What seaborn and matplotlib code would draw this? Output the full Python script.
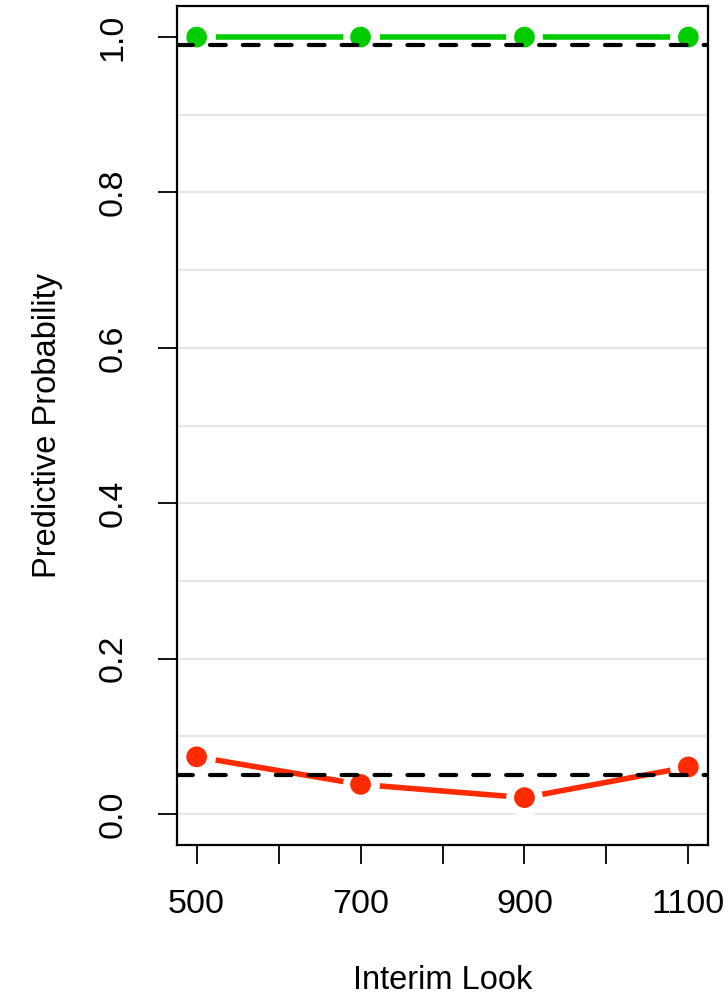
import matplotlib
matplotlib.use("Agg")
import matplotlib.pyplot as plt
import seaborn as sns
import pandas as pd
import numpy as np

looks = [500, 700, 900, 1100]
success = [1.0, 1.0, 1.0, 1.0]
futility = [0.0735, 0.038, 0.021, 0.0605]
success_threshold = 0.99
futility_threshold = 0.05
x_ticks = [500, 600, 700, 800, 900, 1000, 1100]
x_ticklabels = ["500", "", "700", "", "900", "", "1100"]
y_ticks = [0.0, 0.2, 0.4, 0.6, 0.8, 1.0]
y_ticklabels = ["0.0", "0.2", "0.4", "0.6", "0.8", "1.0"]
grid_levels = [0.0, 0.1, 0.2, 0.3, 0.4, 0.5, 0.6, 0.7, 0.8, 0.9, 1.0]

GREEN = "#00CC00"
RED = "#FF2A00"

sns.set_theme(style="white")
plt.rcParams["font.family"] = ["Liberation Sans", "DejaVu Sans"]

df = pd.DataFrame({
    "look": looks * 2,
    "prob": success + futility,
    "series": ["success"] * len(looks) + ["futility"] * len(looks),
})

fig = plt.figure(figsize=(7.28, 9.98), dpi=100)
ax = fig.add_axes([177 / 728, 1 - 845 / 998, 531 / 728, 839 / 998])

# grid lines
for g in grid_levels:
    ax.axhline(g, color="#E6E6E6", lw=1.6, zorder=0.5)

# connecting lines
sns.lineplot(data=df, x="look", y="prob", hue="series",
             palette={"success": GREEN, "futility": RED},
             lw=4.0, legend=False, ax=ax, zorder=2,
             solid_capstyle="round")

# white gap around points (R type="b")
ax.scatter(df["look"], df["prob"], s=26.5 ** 2, color="white", zorder=3, linewidths=0)
# points
sns.scatterplot(data=df, x="look", y="prob", hue="series",
                palette={"success": GREEN, "futility": RED},
                s=14.9 ** 2, linewidth=0, legend=False, ax=ax, zorder=4)

# thresholds
for thr in [success_threshold, futility_threshold]:
    ax.axhline(thr, color="black", lw=3.0, dashes=(3.8, 4.1),
               zorder=5, dash_capstyle="round")

ax.set_xlim(476, 1124)
ax.set_ylim(-0.04, 1.04)

ax.set_xticks(x_ticks)
ax.set_xticklabels(x_ticklabels)
ax.set_yticks(y_ticks)
ax.set_yticklabels(y_ticklabels, rotation=90, va="center")

ax.tick_params(axis="both", which="both", direction="out", length=14,
               width=1.3, color="black", labelsize=24.5, labelcolor="black")
ax.tick_params(axis="x", pad=18)
ax.tick_params(axis="y", pad=21)
ax.tick_params(left=True, bottom=True)

for sp in ax.spines.values():
    sp.set_visible(True)
    sp.set_color("black")
    sp.set_linewidth(1.6)
    sp.set_zorder(6)

ax.set_xlabel("Interim Look", fontsize=23.5, labelpad=32, color="black")
ax.set_ylabel("Predictive Probability", fontsize=23.5, labelpad=25, color="black")

fig.savefig("out.png", dpi=100)
